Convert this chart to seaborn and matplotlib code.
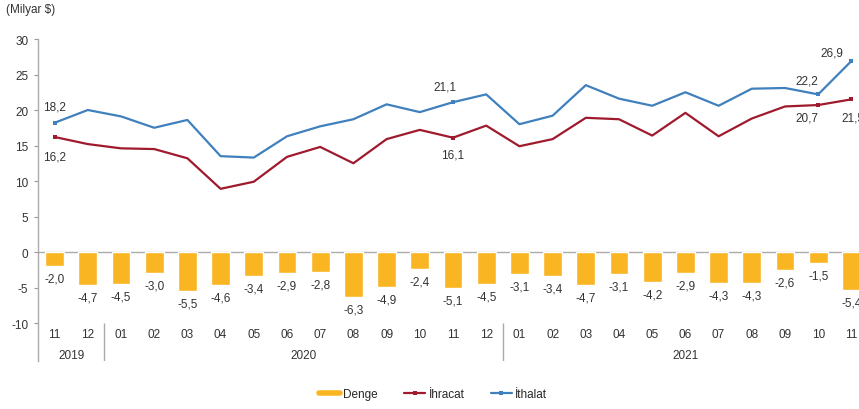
import matplotlib
matplotlib.use("Agg")
import matplotlib.pyplot as plt
from matplotlib.lines import Line2D
import seaborn as sns
import pandas as pd
import numpy as np

# Monthly foreign trade, billion USD (11/2019 - 11/2021)
months = ["11", "12", "01", "02", "03", "04", "05", "06", "07", "08", "09", "10", "11", "12",
          "01", "02", "03", "04", "05", "06", "07", "08", "09", "10", "11"]
years = ["2019", "2020", "2021"]
year_spans = [(0, 1), (2, 13), (14, 24)]

denge = [-2.0, -4.7, -4.5, -3.0, -5.5, -4.6, -3.4, -2.9, -2.8, -6.3, -4.9, -2.4, -5.1, -4.5,
         -3.1, -3.4, -4.7, -3.1, -4.2, -2.9, -4.3, -4.3, -2.6, -1.5, -5.4]
ihracat = [16.2, 15.2, 14.6, 14.5, 13.2, 8.9, 9.9, 13.4, 14.8, 12.5, 15.9, 17.2, 16.1, 17.8,
           14.9, 15.9, 18.9, 18.7, 16.4, 19.6, 16.3, 18.8, 20.5, 20.7, 21.5]
ithalat = [18.2, 20.0, 19.1, 17.5, 18.6, 13.5, 13.3, 16.3, 17.7, 18.7, 20.8, 19.7, 21.1, 22.2,
           18.0, 19.2, 23.5, 21.6, 20.6, 22.5, 20.6, 23.0, 23.1, 22.2, 26.9]

# points that carry a marker and a label: (index, dx, dy in points)
ihr_labels = [(0, 0, -14), (12, 0, -12), (23, -8, -9), (24, 1, -13)]
ith_labels = [(0, 0, 12), (12, -6, 11), (23, -8, 10), (24, -14, 6)]

c_bar = "#F9B522"
c_exp = "#A01A2E"
c_imp = "#4080BD"
c_txt = "#333333"

df = pd.DataFrame({"idx": np.arange(len(months)), "denge": denge,
                   "ihracat": ihracat, "ithalat": ithalat})

def tr(v):
    return f"{v:.1f}".replace(".", ",")

sns.set_style("white")
plt.rcParams["font.family"] = ["Liberation Sans", "DejaVu Sans"]
plt.rcParams["font.size"] = 8.5
plt.rcParams["axes.unicode_minus"] = False
fs = 8.5

fig = plt.figure(figsize=(8.59, 4.10), dpi=100)
ax = fig.add_axes([38 / 859, 1 - 362 / 410, 830 / 859, (362 - 40) / 410])

sns.barplot(data=df, x="idx", y="denge", color=c_bar, width=0.57,
            saturation=1, ax=ax, zorder=2)
sns.lineplot(data=df, x="idx", y="ihracat", color=c_exp, lw=1.6, ax=ax,
             marker="s", markersize=3.5, markeredgewidth=0,
             markevery=[i for i, _, _ in ihr_labels], zorder=3)
sns.lineplot(data=df, x="idx", y="ithalat", color=c_imp, lw=1.6, ax=ax,
             marker="s", markersize=3.5, markeredgewidth=0,
             markevery=[i for i, _, _ in ith_labels], zorder=3)

ax.set_xlim(-0.5, len(months) - 0.5)
ax.set_ylim(-15.35, 30)
ax.set_yticks([-10, -5, 0, 5, 10, 15, 20, 25, 30])
ax.set_xticks([])
ax.set_xlabel("")
ax.set_ylabel("")
ax.tick_params(axis="y", length=3, width=0.8, color="#999999", pad=4,
               labelsize=fs, labelcolor=c_txt, left=True)
for s in ["top", "right", "bottom"]:
    ax.spines[s].set_visible(False)
ax.spines["left"].set_color("#AAAAAA")
ax.spines["left"].set_linewidth(1)
ax.axhline(0, color="#AAAAAA", lw=1, zorder=1)

# bar value labels
for i, v in enumerate(denge):
    ax.annotate(tr(v), (i, v), xytext=(0, -9), textcoords="offset points",
                ha="center", va="center", fontsize=fs, color=c_txt)

for i, dx, dy in ihr_labels:
    ax.annotate(tr(ihracat[i]), (i, ihracat[i]), xytext=(dx, dy),
                textcoords="offset points", ha="center", va="center",
                fontsize=fs, color=c_txt)
for i, dx, dy in ith_labels:
    ax.annotate(tr(ithalat[i]), (i, ithalat[i]), xytext=(dx, dy),
                textcoords="offset points", ha="center", va="center",
                fontsize=fs, color=c_txt)

# month and year axis labels
for i, m in enumerate(months):
    ax.text(i, -11.6, m, ha="center", va="center", fontsize=fs, color=c_txt)
for y, (a, b) in zip(years, year_spans):
    ax.text((a + b) / 2, -14.5, y, ha="center", va="center", fontsize=fs, color=c_txt)
ax.vlines([1.5, 13.5], -15.35, -10.0, color="#AAAAAA", lw=1)

fig.text(6 / 859, 1 - 10 / 410, "(Milyar $)", ha="left", va="center",
         fontsize=fs, color=c_txt)

handles = [Line2D([], [], color=c_bar, lw=4),
           Line2D([], [], color=c_exp, lw=1.6, marker="s", markersize=3.5, markeredgewidth=0),
           Line2D([], [], color=c_imp, lw=1.6, marker="s", markersize=3.5, markeredgewidth=0)]
fig.legend(handles, ["Denge", "İhracat", "İthalat"], loc="center",
           bbox_to_anchor=(0.504, 1 - 395 / 410), ncol=3, frameon=False,
           fontsize=fs, handlelength=1.8, handletextpad=0.3, columnspacing=2.2)

fig.savefig("out.png", dpi=100)
